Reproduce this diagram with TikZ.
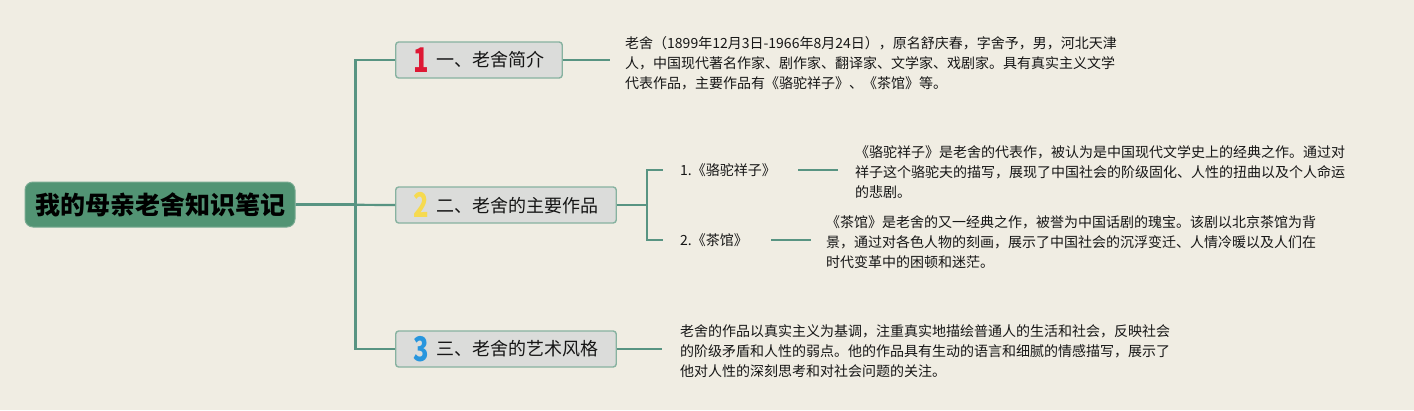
\documentclass[tikz,border=0pt]{standalone}
\usepackage{fontspec}
\setmainfont{Noto Sans CJK SC}
\usepackage{graphicx}
\definecolor{bg}{RGB}{240,237,227}
\definecolor{linec}{RGB}{88,148,130}
\definecolor{rootg}{RGB}{82,148,116}
\definecolor{rootb}{RGB}{120,170,145}
\definecolor{boxg}{RGB}{219,220,218}
\definecolor{boxb}{RGB}{135,178,160}
\definecolor{txtc}{RGB}{22,22,22}
\definecolor{numred}{RGB}{222,24,52}
\definecolor{numyel}{RGB}{246,218,80}
\definecolor{numblu}{RGB}{40,150,222}
\newcommand\topicnum[2]{\raisebox{-5.5pt}{\textcolor{#1}{\fontsize{34}{34}\selectfont\bfseries\scalebox{0.75}[1]{#2}}}\hspace{7pt}}
\begin{document}
\begin{tikzpicture}[x=1pt,y=-1pt,
  conn/.style={draw=linec, line width=2.2pt},
  rootbox/.style={fill=rootg, draw=rootb, line width=1pt, rounded corners=8pt, minimum width=270pt, minimum height=45pt, inner sep=0pt, font=\fontsize{25}{25}\selectfont\bfseries, text=black},
  topic/.style={anchor=west, fill=boxg, draw=boxb, line width=1.4pt, rounded corners=3pt, minimum height=36pt, inner xsep=18pt, inner ysep=0pt, font=\fontsize{18}{18}\selectfont, text=txtc},
  txt/.style={anchor=west, inner sep=0pt, align=left, font=\fontsize{14}{20}\selectfont, text=txtc}]
\fill[bg] (0,0) rectangle (1414,410);
\useasboundingbox (0,0) rectangle (1414,410);

\node[rootbox] (root) at (160,204.5) {我的母亲老舍知识笔记};

\node[topic] (b1) at (395,60) {\topicnum{numred}{1}一、老舍简介};
\node[topic] (b2) at (395,205) {\topicnum{numyel}{2}二、老舍的主要作品};
\node[topic] (b3) at (395,349) {\topicnum{numblu}{3}三、老舍的艺术风格};

\node[txt] (t1) at (625,63) {老舍（1899年12月3日-1966年8月24日），原名舒庆春，字舍予，男，河北天津\\人，中国现代著名作家、剧作家、翻译家、文学家、戏剧家。具有真实主义文学\\代表作品，主要作品有《骆驼祥子》、《茶馆》等。};

\node[txt] (w1) at (680,170) {1.《骆驼祥子》};
\node[txt] (w2) at (680,240) {2.《茶馆》};

\node[txt] (d1) at (855,172.5) {《骆驼祥子》是老舍的代表作，被认为是中国现代文学史上的经典之作。通过对\\祥子这个骆驼夫的描写，展现了中国社会的阶级固化、人性的扭曲以及个人命运\\的悲剧。};
\node[txt] (d2) at (826,242) {《茶馆》是老舍的又一经典之作，被誉为中国话剧的瑰宝。该剧以北京茶馆为背\\景，通过对各色人物的刻画，展示了中国社会的沉浮变迁、人情冷暖以及人们在\\时代变革中的困顿和迷茫。};

\node[txt] (t3) at (680,351) {老舍的作品以真实主义为基调，注重真实地描绘普通人的生活和社会，反映社会\\的阶级矛盾和人性的弱点。他的作品具有生动的语言和细腻的情感描写，展示了\\他对人性的深刻思考和对社会问题的关注。};

% trunk
\draw[conn] (root.east) -- (b2.west);
\draw[conn] (root.east) -- ++(60,0) |- (b1.west);
\draw[conn] (root.east) -- ++(60,0) |- (b3.west);

% branches
\draw[conn, shorten >=15pt] (b1.east) -- (b1.east -| t1.west);
\draw[conn, shorten >=17pt] (b2.east) -- ++(30,0) |- (w1.west);
\draw[conn, shorten >=17pt] (b2.east) -- ++(30,0) |- (w2.west);
\draw[conn, shorten <=22pt, shorten >=17pt] (w1.east) -- (w1.east -| d1.west);
\draw[conn, shorten <=23pt, shorten >=15pt] (w2.east) -- (w2.east -| d2.west);
\draw[conn, shorten >=18pt] (b3.east) -- (b3.east -| t3.west);
\end{tikzpicture}
\end{document}
